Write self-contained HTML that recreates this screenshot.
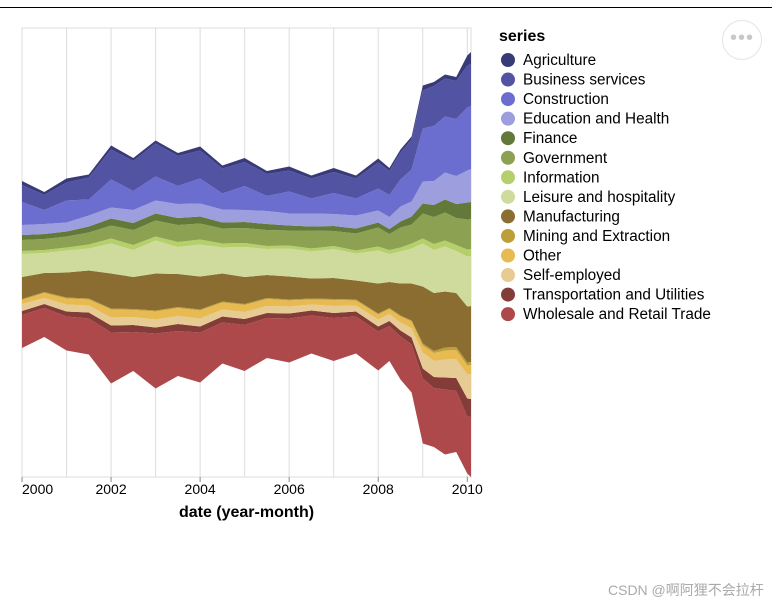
<!DOCTYPE html>
<html><head><meta charset="utf-8"><style>
html,body{margin:0;padding:0;background:#fff;width:772px;height:603px;overflow:hidden;font-family:"Liberation Sans","Noto Sans CJK SC",sans-serif}
#topline{position:absolute;left:0;top:7px;width:772px;height:1px;background:#000}
#menu{position:absolute;left:722px;top:20px;width:38px;height:38px;border:1px solid #e4e4e4;border-radius:50%;color:#c8c8c8;font-size:20px;text-align:center;line-height:34px;letter-spacing:1px}
#wm{position:absolute;left:608px;top:580px;font-size:14px;color:#aaa}
</style></head><body>
<div id="topline"></div>
<svg id="chart" width="772" height="603" style="position:absolute;left:0;top:0"></svg>
<div id="menu">•••</div>
<div id="wm">CSDN @啊阿狸不会拉杆</div>
<script>
const dates = ["2000-01","2000-07","2001-01","2001-07","2002-01","2002-07","2003-01","2003-07","2004-01","2004-07","2005-01","2005-07","2006-01","2006-07","2007-01","2007-07","2008-01","2008-04","2008-07","2008-10","2009-01","2009-04","2009-07","2009-10","2010-01","2010-02"];
const seriesNames = ["Agriculture","Business services","Construction","Education and Health","Finance","Government","Information","Leisure and hospitality","Manufacturing","Mining and Extraction","Other","Self-employed","Transportation and Utilities","Wholesale and Retail Trade"];
const colors = ["#393b79","#5254a3","#6b6ecf","#9c9ede","#637939","#8ca252","#b5cf6b","#cedb9c","#8c6d31","#bd9e39","#e7ba52","#e7cb94","#843c39","#ad494a"];
const agriculture = [4,3,4,3,4,3,3,3,4,3,4,3,4,3,4,3,4,3,3,3,5,4,4,4,10,12];
const business = [17,15,18,22,30,30,33,30,28,25,24,22,21,20,21,20,26,24,27,30,38,40,38,38,42,42];
const construction = [23,14,22,16,28,19,24,18,25,16,24,15,22,15,21,17,22,22,27,32,53,55,56,57,63,63];
const education = [10,10,9,11,11,13,13,14,13,13,12,13,12,13,12,13,12,12,15,15,22,24,27,28,32,33];
const finance = [5,5,5,6,7,7,7,7,7,6,6,6,5,4,5,5,5,5,6,8,10,12,13,14,17,17];
const government = [11,11,11,12,13,15,16,17,16,15,15,16,15,18,15,17,19,16,20,19,25,27,28,27,30,30];
const information = [3,3,3,4,5,5,4,5,5,4,4,3,3,3,3,3,4,4,4,5,5,6,6,6,7,7];
const leisure = [23,20,22,22,30,27,33,27,32,26,30,26,28,27,29,27,33,28,32,35,43,43,45,42,50,50];
const manufacturing = [22,19,25,28,35,32,37,33,33,28,27,23,23,20,21,19,30,26,32,37,57,58,56,54,56,56];
const mining = [1,1,1,1,1,1,1,1,1,1,1,1,1,1,1,1,1,1,1,1,2,2,3,3,3,3];
const other = [4,5,6,6,8,7,8,8,8,7,7,7,6,5,6,5,5,5,6,7,7,8,9,9,9,9];
const selfEmployed = [7,6,7,7,8,8,8,8,8,7,7,7,7,6,7,6,7,7,8,9,16,16,18,19,24,25];
const transportation = [4,4,5,6,7,7,6,7,6,6,6,5,5,5,5,5,5,5,6,7,10,11,12,13,18,18];
const wholesale = [33,29,34,36,51,39,55,45,50,41,46,40,44,38,43,37,39,35,43,48,65,59,65,61,57,60];
const seriesValues = [agriculture,business,construction,education,finance,government,information,leisure,manufacturing,mining,other,selfEmployed,transportation,wholesale];
const xTickYears = ["2000","2002","2004","2006","2008","2010"];

const NS="http://www.w3.org/2000/svg";
const svg=document.getElementById('chart');
const L=22,R=471,T=28,B=477;
function monthIndex(s){const p=s.split('-');return (+p[0]-2000)*12+(+p[1]-1);}
const m0=monthIndex(dates[0]), m1=monthIndex(dates[dates.length-1]);
function xScale(s){return L+(monthIndex(s)-m0)/(m1-m0)*(R-L);}
const totals=dates.map((d,i)=>seriesValues.reduce((a,s)=>a+s[i],0));
const tmax=Math.max(...totals);
const D=tmax/0.9465;
function yScale(v){return B-v/D*(B-T);}
function mk(tag,attrs){const e=document.createElementNS(NS,tag);for(const k in attrs)e.setAttribute(k,attrs[k]);return e;}

const frame=mk('rect',{x:L,y:T,width:R-L,height:B-T,fill:'none',stroke:'#ddd'});


svg.appendChild(frame);
for(let y=2000;y<=2010;y++){
  const x=xScale(y+"-01");
  const g=mk('line',{x1:x,x2:x,y1:T,y2:B,stroke:'#ddd'});
  
  
  svg.appendChild(g);
}
const base=dates.map((d,i)=>(tmax-totals[i])/2);
const cum=base.slice();
for(let s=seriesValues.length-1;s>=0;s--){
  const vals=seriesValues[s];
  const lower=cum.slice();
  const upper=cum.map((c,i)=>c+vals[i]);
  let dstr='';
  dates.forEach((d,i)=>{dstr+=(i?'L':'M')+xScale(d).toFixed(1)+','+yScale(upper[i]).toFixed(1);});
  for(let i=dates.length-1;i>=0;i--)dstr+='L'+xScale(dates[i]).toFixed(1)+','+yScale(lower[i]).toFixed(1);
  const p=mk('path',{d:dstr+'Z',fill:colors[s]});
  
  
  svg.appendChild(p);
  for(let i=0;i<cum.length;i++)cum[i]=upper[i];
}
xTickYears.forEach((yr,i)=>{
  const x=xScale(yr+"-01");
  const t=mk('line',{x1:x,x2:x,y1:B,y2:B+5,stroke:'#888'});
  
  
  svg.appendChild(t);
  const tx=mk('text',{x:i===0?L:x,y:B+17,'font-size':14,'text-anchor':i===0?'start':'middle',fill:'#000'});
  tx.textContent=yr;
  
  
  svg.appendChild(tx);
});
const xt=mk('text',{x:(L+R)/2,y:517,'font-size':16,'font-weight':'bold','text-anchor':'middle'});
xt.textContent='date (year-month)';


svg.appendChild(xt);
const lt=mk('text',{x:499,y:41,'font-size':16,'font-weight':'bold'});
lt.textContent='series';


svg.appendChild(lt);
seriesNames.forEach((n,i)=>{
  const y=60+i*19.55;
  const c=mk('circle',{cx:508,cy:y,r:7,fill:colors[i]});
  
  
  svg.appendChild(c);
  const t=mk('text',{x:523,y:y+5,'font-size':15.3});
  t.textContent=n;
  
  
  svg.appendChild(t);
});
</script>
</body></html>
